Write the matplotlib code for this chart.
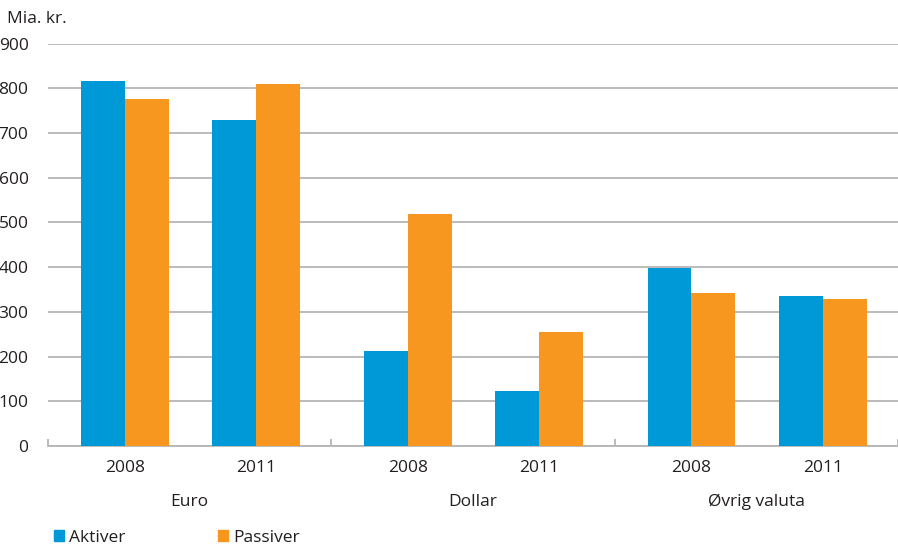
import matplotlib
matplotlib.use("Agg")
import matplotlib.pyplot as plt
import matplotlib.transforms as mtransforms
from matplotlib.patches import Patch

plt.rcParams['font.family'] = ['Open Sans', 'DejaVu Sans']

groups = ["Euro", "Dollar", "Øvrig valuta"]
years = ["2008", "2011"]
aktiver = [817, 728, 213, 123, 399, 336]
passiver = [775, 810, 519, 254, 343, 329]
y_ticks = [0, 100, 200, 300, 400, 500, 600, 700, 800, 900]

BLUE = "#0099d8"
ORANGE = "#f7971f"
GRID = "#b5b5b5"
TEXT = "#231f20"

fig = plt.figure(figsize=(8.98, 5.47), dpi=100)
ax = fig.add_axes([48 / 898, (547 - 446) / 547, 850 / 898, (446 - 43.5) / 547])

# one unit per currency group, two years inside each
offsets = [0.271, 0.734]
bar_w = 0.155
centers = [g + off for g in range(len(groups)) for off in offsets]

ax.bar([c - bar_w / 2 for c in centers], aktiver, width=bar_w, color=BLUE, zorder=3)
ax.bar([c + bar_w / 2 for c in centers], passiver, width=bar_w, color=ORANGE, zorder=3)

ax.set_xlim(0, 850 / 284)
ax.set_ylim(0, 900)

ax.set_yticks(y_ticks)
ax.tick_params(axis='y', length=0, pad=14, labelsize=12.5, labelcolor=TEXT)
ax.yaxis.grid(True, color=GRID, linewidth=1.3, zorder=0)

# group separators as small inward ticks, year labels as minor ticks
ax.set_xticks(range(len(groups) + 1))
ax.set_xticklabels([])
ax.tick_params(axis='x', which='major', direction='in', length=5, width=1.3, color=GRID)
ax.set_xticks(centers, minor=True)
ax.set_xticklabels(years * len(groups), minor=True)
ax.tick_params(axis='x', which='minor', length=0, pad=10, labelsize=12.5, labelcolor=TEXT)

for side in ['top', 'right', 'left']:
    ax.spines[side].set_visible(False)
ax.spines['bottom'].set_color(GRID)
ax.spines['bottom'].set_linewidth(1.3)

trans = mtransforms.blended_transform_factory(ax.transData, fig.transFigure)
for i, name in enumerate(groups):
    ax.text(i + 0.5, 1 - 502 / 547, name, transform=trans, ha='center', va='center',
            fontsize=12.5, color=TEXT)

fig.text(7 / 898, 1 - 19 / 547, "Mia. kr.", ha='left', va='center', fontsize=12.5, color=TEXT)

handles = [Patch(color=BLUE, label="Aktiver"), Patch(color=ORANGE, label="Passiver")]
fig.legend(handles=handles, loc='center left', bbox_to_anchor=(38 / 898, 1 - 538 / 547),
           ncol=2, frameon=False, fontsize=12.5, handlelength=0.6, handleheight=0.6,
           handletextpad=0.3, columnspacing=5.3, labelcolor=TEXT)

fig.savefig("out.png", dpi=100)
